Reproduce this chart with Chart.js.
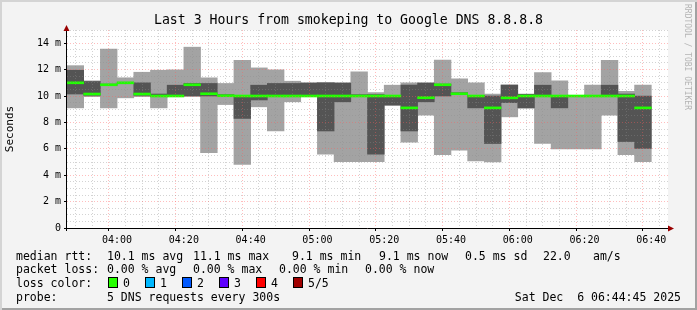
<!DOCTYPE html>
<html>
<head>
<meta charset="utf-8">
<script src="https://cdn.jsdelivr.net/npm/chart.js@4/dist/chart.umd.min.js"></script>
<style>
  body { margin: 0; background: #fff; }
  #frame {
    position: relative; width: 697px; height: 310px; overflow: hidden;
    background: #f3f3f3;
    box-shadow: inset 2px 2px 0 #d4d4d4, inset -2px -2px 0 #a2a2a2;
    font-family: 'DejaVu Sans Mono', monospace; color: #000;
  }
  #chart { position: absolute; left: 0; top: 0; }
  #title { position: absolute; left: 0; top: 12px; width: 697px; text-align: center; font-size: 13.2px; line-height: 15px; white-space: pre; }
  .side { position: absolute; left: 683px; top: 4px; writing-mode: vertical-rl; font-size: 8px; color: #b4b4b4; white-space: pre; }
  .lg { position: absolute; font-size: 11.5px; line-height: 14px; white-space: pre; }
  .box { position: absolute; width: 8px; height: 9px; border: 1px solid #000; top: 277px; }
</style>
</head>
<body>
<div id="frame">
  <canvas id="chart" width="697" height="310"></canvas>
  <div id="title">Last 3 Hours from smokeping to Google DNS 8.8.8.8</div>
  <div class="side">RRDTOOL / TOBI OETIKER</div>

  <div class="lg" style="left:16px;top:249px">median rtt:</div>
  <div class="lg" style="left:107px;top:249px">10.1 ms avg</div>
  <div class="lg" style="left:193px;top:249px">11.1 ms max</div>
  <div class="lg" style="left:292px;top:249px">9.1 ms min</div>
  <div class="lg" style="left:379px;top:249px">9.1 ms now</div>
  <div class="lg" style="left:465px;top:249px">0.5 ms sd</div>
  <div class="lg" style="left:543px;top:249px">22.0</div>
  <div class="lg" style="left:593px;top:249px">am/s</div>

  <div class="lg" style="left:16px;top:262px">packet loss:</div>
  <div class="lg" style="left:107px;top:262px">0.00 % avg</div>
  <div class="lg" style="left:193px;top:262px">0.00 % max</div>
  <div class="lg" style="left:279px;top:262px">0.00 % min</div>
  <div class="lg" style="left:365px;top:262px">0.00 % now</div>

  <div class="lg" style="left:16px;top:276px">loss color:</div>
  <div id="lossRow"></div>

  <div class="lg" style="left:16px;top:290px">probe:</div>
  <div class="lg" style="left:107px;top:290px">5 DNS requests every 300s</div>
  <div class="lg" style="right:16px;top:290px">Sat Dec  6 06:44:45 2025</div>
</div>

<script>
// one bar per 5 minute step (start time of the step)
var times = ['03:45', '03:50', '03:55', '04:00', '04:05', '04:10', '04:15', '04:20', '04:25', '04:30',
  '04:35', '04:40', '04:45', '04:50', '04:55', '05:00', '05:05', '05:10', '05:15', '05:20',
  '05:25', '05:30', '05:35', '05:40', '05:45', '05:50', '05:55', '06:00', '06:05', '06:10',
  '06:15', '06:20', '06:25', '06:30', '06:35']

// sorted pings (ms): lowest, 2nd, median, 4th, highest
var pingMin = [9.1, 9.95, 9.1, 9.86, 9.95, 9.1, 9.95, 9.98, 5.7, 9.35,
  4.82, 9.18, 7.35, 9.56, 9.97, 5.6, 5.02, 5.02, 5.02, 9.28,
  6.5, 8.55, 5.55, 5.9, 5.08, 5.0, 8.42, 9.08, 6.4, 6.0,
  6.0, 6.0, 8.55, 5.55, 5.02]
var pingLow = [10.15, 10.05, 10.8, 10.95, 10.05, 9.95, 9.98, 10.0, 10.0, 9.98,
  8.3, 9.7, 9.95, 9.97, 9.98, 7.35, 9.56, 9.95, 5.6, 9.32,
  7.35, 9.56, 10.0, 10.1, 9.1, 6.4, 9.5, 9.1, 9.97, 9.1,
  9.95, 9.98, 9.98, 6.55, 6.03]
var median = [11.0, 10.15, 10.85, 11.0, 10.15, 10.0, 10.0, 10.85, 10.17, 10.02,
  10.0, 10.0, 10.0, 10.0, 10.0, 10.0, 10.0, 10.0, 10.0, 10.0,
  9.1, 9.87, 10.85, 10.17, 10.0, 9.1, 9.86, 10.0, 10.0, 10.0,
  10.0, 10.0, 10.0, 10.0, 9.1]
var pingHigh = [11.95, 11.1, 10.9, 11.0, 11.0, 10.15, 10.82, 10.95, 10.95, 10.1,
  10.05, 10.82, 10.95, 10.95, 10.98, 11.0, 10.98, 10.1, 10.1, 10.05,
  10.83, 10.98, 10.9, 10.25, 10.05, 10.0, 10.82, 10.12, 10.82, 10.05,
  10.02, 10.02, 10.82, 10.15, 10.0]
var pingMax = [12.3, 11.15, 13.55, 11.38, 11.8, 11.95, 11.98, 13.7, 11.38, 10.95,
  12.7, 12.13, 11.98, 11.12, 11.0, 11.02, 11.0, 11.83, 10.25, 10.82,
  11.0, 11.0, 12.72, 11.3, 11.0, 10.15, 10.85, 10.15, 11.78, 11.15,
  10.05, 10.83, 12.71, 10.35, 10.82]

var xTickLabels = ['04:00', '04:20', '04:40', '05:00', '05:20', '05:40', '06:00', '06:20', '06:40']
var yTickLabels = ['0', '2 m', '4 m', '6 m', '8 m', '10 m', '12 m', '14 m']

var lossLabels = ['0', '1', '2', '3', '4', '5/5']
var lossColors = ['#26ff00', '#00b8ff', '#0059ff', '#5e00ff', '#ff0000', '#a00000']

function clockMin (t) {
  var p = t.split(':')
  return Number(p[0]) * 60 + Number(p[1])
}
var startMin = clockMin(times[0])
function clockStr (v) {
  var m = startMin + v
  var h = Math.floor(m / 60), mm = m % 60
  return (h < 10 ? '0' : '') + h + ':' + (mm < 10 ? '0' : '') + mm
}
function isMajorX (v) { return xTickLabels.indexOf(clockStr(v)) !== -1 }
function isMajorY (v) { return Math.abs(v / 2 - Math.round(v / 2)) < 1e-6 }

var lossRow = document.getElementById('lossRow')
lossLabels.forEach(function (lab, i) {
  var b = document.createElement('div')
  b.className = 'box'
  b.style.left = (108 + i * 37) + 'px'
  b.style.background = lossColors[i]
  lossRow.appendChild(b)
  var t = document.createElement('div')
  t.className = 'lg'
  t.style.left = (123 + i * 37) + 'px'
  t.style.top = '276px'
  t.textContent = lab
  lossRow.appendChild(t)
})

function bars (lo, hi) {
  return times.map(function (t, i) {
    return { x: clockMin(t) - startMin + 2.5, y: [lo[i], hi[i]] }
  })
}
var medLine = times.map(function (t, i) {
  return { x: clockMin(t) - startMin + 2.5, y: [median[i] - 0.075, median[i] + 0.075] }
})

var frameBits = {
  id: 'frameBits',
  beforeDraw: function (chart) {
    var a = chart.chartArea, c = chart.ctx
    c.save()
    c.fillStyle = '#ffffff'
    c.fillRect(a.left, a.top, a.right - a.left, a.bottom - a.top)
    c.restore()
  },
  afterDraw: function (chart) {
    var a = chart.chartArea, c = chart.ctx
    c.save()
    c.strokeStyle = '#000'
    c.lineWidth = 1
    c.beginPath()
    c.moveTo(a.left - 3, a.bottom + 0.5); c.lineTo(a.right + 3, a.bottom + 0.5)
    c.moveTo(a.left - 0.5, a.bottom + 3); c.lineTo(a.left - 0.5, a.top - 2)
    c.stroke()
    c.fillStyle = '#990000'
    c.beginPath()
    c.moveTo(a.left - 3.5, a.top + 1); c.lineTo(a.left + 2.5, a.top + 1); c.lineTo(a.left - 0.5, a.top - 5)
    c.closePath(); c.fill()
    c.beginPath()
    c.moveTo(a.right, a.bottom - 2.5); c.lineTo(a.right, a.bottom + 3.5); c.lineTo(a.right + 6, a.bottom + 0.5)
    c.closePath(); c.fill()
    c.restore()
  }
}

var tickFont = { family: 'DejaVu Sans Mono', size: 10 }
var majorGrid = 'rgba(255,90,90,0.4)'
var minorGrid = 'rgba(140,140,140,0.38)'

function gridColor (test) {
  return function (ctx) {
    if (!ctx.tick) return minorGrid
    return test(ctx.tick.value) ? majorGrid : minorGrid
  }
}
function tickColor (test) {
  return function (ctx) {
    if (!ctx.tick) return 'rgba(0,0,0,0)'
    return test(ctx.tick.value) ? '#000' : 'rgba(0,0,0,0)'
  }
}

new Chart(document.getElementById('chart'), {
  type: 'bar',
  data: {
    datasets: [
      { data: medLine, backgroundColor: '#20ff00', order: 0 },
      { data: bars(pingLow, pingHigh), backgroundColor: '#545454', order: 1 },
      { data: bars(pingMin, pingMax), backgroundColor: '#a3a3a3', order: 2 }
    ]
  },
  options: {
    responsive: false,
    animation: false,
    devicePixelRatio: 1,
    layout: { padding: { left: 0, right: 29, top: 30, bottom: 62 } },
    datasets: { bar: { grouped: false, barPercentage: 1, categoryPercentage: 1, borderWidth: 0 } },
    plugins: { legend: { display: false }, tooltip: { enabled: false } },
    scales: {
      x: {
        type: 'linear', min: 0, max: 180, offset: false,
        afterFit: function (s) { s.height = 20 },
        ticks: {
          stepSize: 5, autoSkip: false, maxRotation: 0, padding: 3,
          font: tickFont, color: '#000',
          callback: function (v) { return isMajorX(v) ? clockStr(v) : '' }
        },
        grid: {
          z: 1, drawTicks: true, tickLength: 3, tickWidth: 1, tickBorderDash: [],
          color: gridColor(isMajorX),
          tickColor: tickColor(isMajorX)
        },
        border: { display: false, dash: [1, 2] }
      },
      y: {
        min: 0, max: 15,
        afterFit: function (s) { s.width = 67 },
        title: { display: true, text: 'Seconds', font: { family: 'DejaVu Sans Mono', size: 11 }, color: '#000', padding: { top: 4, bottom: 0 } },
        ticks: {
          stepSize: 0.5, autoSkip: false, padding: 3,
          font: tickFont, color: '#000',
          callback: function (v) { return isMajorY(v) ? yTickLabels[Math.round(v / 2)] || '' : '' }
        },
        grid: {
          z: 1, drawTicks: true, tickLength: 3, tickWidth: 1, tickBorderDash: [],
          color: gridColor(isMajorY),
          tickColor: tickColor(isMajorY)
        },
        border: { display: false, dash: [1, 2] }
      }
    }
  },
  plugins: [frameBits]
})
</script>
</body>
</html>
